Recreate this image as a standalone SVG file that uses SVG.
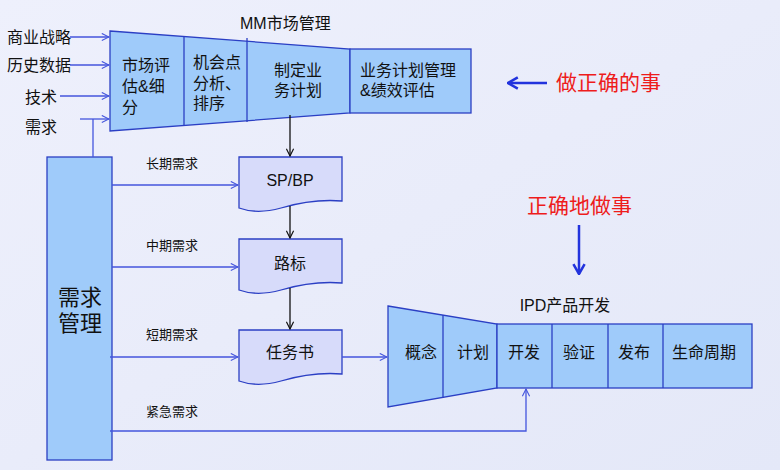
<svg xmlns="http://www.w3.org/2000/svg" width="780" height="470" viewBox="0 0 780 470">
<defs>
<linearGradient id="bg" x1="0" y1="0" x2="1" y2="1">
<stop offset="0" stop-color="#eef0fc"/>
<stop offset="1" stop-color="#e4e8f8"/>
</linearGradient>
<marker id="ob" viewBox="0 0 10 10" refX="9" refY="5" markerWidth="9" markerHeight="9" orient="auto" markerUnits="userSpaceOnUse">
<path d="M1,1 L9,5 L1,9" fill="none" stroke="#4455dd" stroke-width="1.2"/>
</marker>
<marker id="bk" viewBox="0 0 10 10" refX="9" refY="5" markerWidth="9" markerHeight="9" orient="auto" markerUnits="userSpaceOnUse">
<path d="M1,1 L9,5 L1,9" fill="none" stroke="#111" stroke-width="1.3"/>
</marker>
<marker id="big" viewBox="0 0 10 10" refX="9" refY="5" markerWidth="14" markerHeight="14" orient="auto" markerUnits="userSpaceOnUse">
<path d="M2,1 L9,5 L2,9" fill="none" stroke="#2233dd" stroke-width="1.8"/>
</marker>
</defs>
<style>
text{font-family:"Liberation Sans","Noto Sans CJK SC",sans-serif;fill:#111}
.funnel{fill:#9fcbfa;stroke:#2b3fc4;stroke-width:1.3}
.div{stroke:#2b3fc4;stroke-width:1.3}
.doc{fill:#d7dbfa;stroke:#2b3fc4;stroke-width:1.3}
.t16{font-size:16px}
.t13{font-size:13px}
.red{fill:#ee1c1c;font-size:21px}
.bl{fill:none;stroke:#4455dd;stroke-width:1.3}
.blk{fill:none;stroke:#111;stroke-width:1.3}
</style>
<rect width="780" height="470" fill="url(#bg)"/>

<g id="mm">
<polygon class="funnel" points="110,31 350,49 350,113 110,131"/>
<rect class="funnel" x="350" y="49" width="121" height="64"/>
<line class="div" x1="184" y1="36.5" x2="184" y2="125.5"/>
<line class="div" x1="247" y1="38" x2="247" y2="122"/>
<text class="t16" x="240" y="29">MM市场管理</text>
<text class="t16" x="122" y="71">市场评</text>
<text class="t16" x="122" y="92">估&amp;细</text>
<text class="t16" x="122" y="113">分</text>
<text class="t16" x="193" y="68">机会点</text>
<text class="t16" x="193" y="89">分析、</text>
<text class="t16" x="193" y="109">排序</text>
<text class="t16" x="298" y="76" text-anchor="middle">制定业</text>
<text class="t16" x="298" y="96" text-anchor="middle">务计划</text>
<text class="t16" x="360" y="76">业务计划管理</text>
<text class="t16" x="360" y="96">&amp;绩效评估</text>
</g>

<g id="inputs">
<text class="t16" x="7" y="43">商业战略</text>
<text class="t16" x="7" y="71">历史数据</text>
<text class="t16" x="25" y="103">技术</text>
<text class="t16" x="25" y="133">需求</text>
</g>

<g id="req">
<rect x="47" y="157" width="65" height="303" fill="#9fcbfa" stroke="#2b3fc4" stroke-width="1.3"/>
<text x="80" y="305" font-size="22" text-anchor="middle">需求</text>
<text x="80" y="331" font-size="22" text-anchor="middle">管理</text>
</g>

<g id="spbp">
<path class="doc" d="M239,157 H342 V201 C318,199 298,203 281,208 C263,213 250,212 239,208 Z"/>
<text class="t16" x="290" y="186" text-anchor="middle">SP/BP</text>
</g>
<g id="roadmap">
<path class="doc" d="M239,239 H342 V283 C318,281 298,285 281,290 C263,295 250,294 239,290 Z"/>
<text class="t16" x="290" y="269" text-anchor="middle">路标</text>
</g>
<g id="task">
<path class="doc" d="M239,330 H342 V374 C318,372 298,376 281,381 C263,386 250,385 239,381 Z"/>
<text class="t16" x="290" y="358" text-anchor="middle">任务书</text>
</g>

<g id="ipd">
<polygon class="funnel" points="388,306 497,324 497,388 388,407"/>
<rect class="funnel" x="497" y="324" width="255" height="64"/>
<line class="div" x1="443" y1="315" x2="443" y2="398"/>
<line class="div" x1="552" y1="324" x2="552" y2="388"/>
<line class="div" x1="608" y1="324" x2="608" y2="388"/>
<line class="div" x1="663" y1="324" x2="663" y2="388"/>
<text class="t16" x="565" y="311" text-anchor="middle">IPD产品开发</text>
<text class="t16" x="421" y="358" text-anchor="middle">概念</text>
<text class="t16" x="473" y="358" text-anchor="middle">计划</text>
<text class="t16" x="524" y="358" text-anchor="middle">开发</text>
<text class="t16" x="579" y="358" text-anchor="middle">验证</text>
<text class="t16" x="634" y="358" text-anchor="middle">发布</text>
<text class="t16" x="704" y="358" text-anchor="middle">生命周期</text>
</g>

<g id="notes">
<text class="red" x="556" y="90">做正确的事</text>
<text class="red" x="527" y="213">正确地做事</text>
</g>

<g id="connectors">
<line class="bl" x1="70" y1="37" x2="109" y2="37" marker-end="url(#ob)"/>
<line class="bl" x1="70" y1="65" x2="109" y2="65" marker-end="url(#ob)"/>
<line class="bl" x1="60" y1="96" x2="109" y2="96" marker-end="url(#ob)"/>
<line class="bl" x1="80" y1="119" x2="109" y2="119" marker-end="url(#ob)"/>
<line class="bl" x1="93" y1="119" x2="93" y2="157"/>
<line class="blk" x1="290" y1="115" x2="290" y2="156" marker-end="url(#bk)"/>
<line class="blk" x1="290" y1="206" x2="290" y2="238" marker-end="url(#bk)"/>
<line class="blk" x1="290" y1="288" x2="290" y2="329" marker-end="url(#bk)"/>
<line class="bl" x1="112" y1="185" x2="238" y2="185" marker-end="url(#ob)"/>
<line class="bl" x1="112" y1="267" x2="238" y2="267" marker-end="url(#ob)"/>
<line class="bl" x1="110" y1="357" x2="238" y2="357" marker-end="url(#ob)"/>
<line class="bl" x1="342" y1="357" x2="387" y2="357" marker-end="url(#ob)"/>
<polyline class="bl" points="110,431 526,431 526,389" marker-end="url(#ob)"/>
<text class="t13" x="146" y="168">长期需求</text>
<text class="t13" x="146" y="250">中期需求</text>
<text class="t13" x="146" y="339">短期需求</text>
<text class="t13" x="146" y="416">紧急需求</text>
<line x1="547" y1="83" x2="508" y2="83" stroke="#2233dd" stroke-width="2.5" marker-end="url(#big)"/>
<line x1="579" y1="225" x2="579" y2="274" stroke="#2233dd" stroke-width="2.5" marker-end="url(#big)"/>
</g>
</svg>
